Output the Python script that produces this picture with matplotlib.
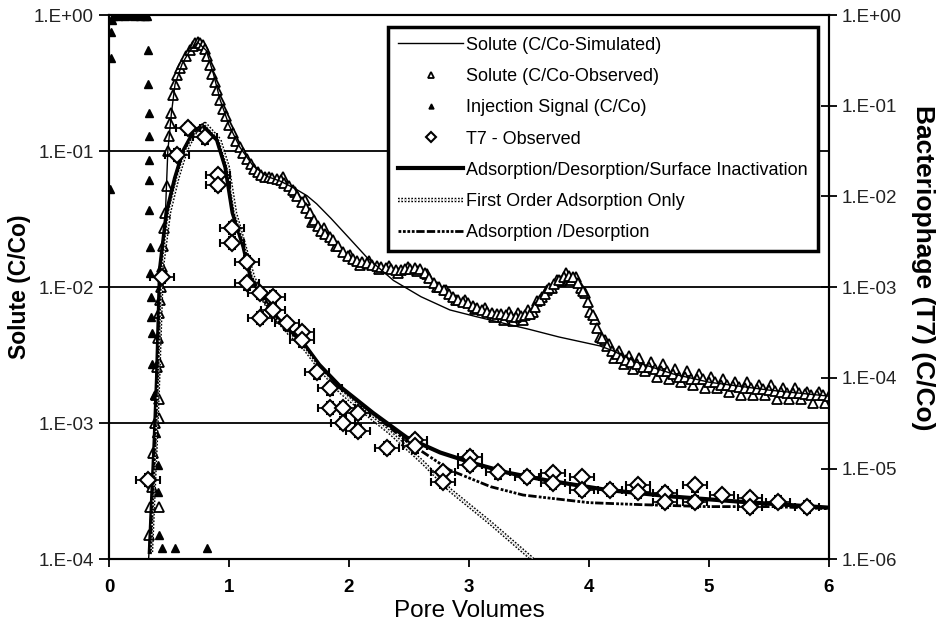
import matplotlib.pyplot as plt
import matplotlib.patheffects as pe
from matplotlib.ticker import FixedLocator, FuncFormatter, NullLocator

plt.rcParams['font.family'] = ['Liberation Sans', 'DejaVu Sans']

# Solute observed (left axis)
sol_obs_x = [0.33, 0.345, 0.36, 0.37, 0.38, 0.39, 0.40, 0.41, 0.42, 0.425, 0.43, 0.44, 0.45, 0.46, 0.47,
             0.48, 0.49, 0.50, 0.51, 0.52, 0.535, 0.55, 0.57, 0.59, 0.61, 0.64, 0.675, 0.70, 0.72, 0.74,
             0.76, 0.78, 0.80, 0.82, 0.84, 0.86, 0.88, 0.90, 0.925, 0.95, 0.975, 1.00, 1.03, 1.06, 1.09,
             1.12, 1.15, 1.18, 1.21, 1.24, 1.27, 1.30, 1.33, 1.36, 1.40, 1.43, 1.46, 1.50, 1.53, 1.57,
             1.61, 1.64, 1.675, 1.71, 1.74, 1.77, 1.80, 1.84, 1.87, 1.91, 1.95, 1.99, 2.03, 2.07, 2.11,
             2.15, 2.19, 2.23, 2.27, 2.31, 2.35, 2.39, 2.43, 2.47, 2.51, 2.55, 2.59, 2.63, 2.67, 2.71,
             2.75, 2.79, 2.83, 2.87, 2.91, 2.95, 2.99, 3.03, 3.07, 3.11, 3.15, 3.19, 3.23, 3.27, 3.31,
             3.35, 3.39, 3.43, 3.47, 3.51, 3.55, 3.59, 3.63, 3.67, 3.71, 3.75, 3.79, 3.83, 3.87, 3.91,
             3.95, 3.99, 4.03, 4.07, 4.11, 4.15, 4.19, 4.23, 4.27, 4.31, 4.35, 4.40, 4.45, 4.50, 4.55,
             4.60, 4.65, 4.70, 4.75, 4.80, 4.85, 4.90, 4.95, 5.00, 5.05, 5.10, 5.15, 5.20, 5.25, 5.30,
             5.35, 5.40, 5.45, 5.50, 5.55, 5.60, 5.65, 5.70, 5.75, 5.80, 5.85, 5.90, 5.95, 6.00,
             0.42, 0.42, 0.42, 0.415]
sol_obs_y = [1.5e-4, 2.4e-4, 3.4e-4, 6e-4, 1.0e-3, 1.6e-3, 2.6e-3, 4.2e-3, 6.5e-3, 8e-3, 1.0e-2, 1.4e-2, 2.0e-2, 2.7e-2, 3.5e-2,
             5.5e-2, 0.1, 0.13, 0.16, 0.19, 0.26, 0.31, 0.36, 0.41, 0.44, 0.50, 0.55, 0.59, 0.62, 0.63,
             0.62, 0.60, 0.56, 0.50, 0.43, 0.37, 0.32, 0.28, 0.237, 0.205, 0.18, 0.155, 0.135, 0.118, 0.107,
             0.097, 0.088, 0.080, 0.074, 0.070, 0.067, 0.065, 0.064, 0.063, 0.062, 0.061, 0.058, 0.055, 0.052, 0.047,
             0.042, 0.038, 0.035, 0.031, 0.028, 0.026, 0.0245, 0.0232, 0.0222, 0.020, 0.018, 0.0168, 0.016, 0.0155, 0.0152,
             0.0150, 0.0146, 0.0142, 0.0140, 0.0138, 0.0136, 0.0134, 0.0133, 0.0135, 0.0137, 0.0138, 0.0135, 0.0127, 0.0117, 0.0108,
             0.0100, 0.0095, 0.0089, 0.0085, 0.0081, 0.0078, 0.0076, 0.0073, 0.0070, 0.0068, 0.0066, 0.0065, 0.0064, 0.0063, 0.0062,
             0.0061, 0.0060, 0.0061, 0.0062, 0.0064, 0.0071, 0.0080, 0.0089, 0.0098, 0.0106, 0.0113, 0.0119, 0.0121, 0.0118, 0.0108,
             0.0094, 0.0078, 0.0062, 0.0050, 0.0042, 0.0037, 0.0034, 0.0032, 0.0030, 0.0029, 0.0028, 0.0027, 0.0026, 0.0026, 0.0025,
             0.0024, 0.0024, 0.0023, 0.0022, 0.0022, 0.0021, 0.0021, 0.0021, 0.0020, 0.0020, 0.0019, 0.0019, 0.00188, 0.00185, 0.00182,
             0.0018, 0.00178, 0.00178, 0.00175, 0.00172, 0.0017, 0.00168, 0.00168, 0.00166, 0.00164, 0.00162, 0.0016, 0.0016, 0.00158,
             2.8e-3, 1.5e-3, 1.1e-3, 2.4e-4]
# scatter at the edges of the observed band
sol_band_x = [1.45, 1.55, 1.63, 1.69, 1.79, 1.89, 2.01, 2.09, 2.17, 2.25, 2.33, 2.41, 2.49, 2.57, 2.65,
              2.73, 2.81, 2.89, 2.97, 3.05, 3.13, 3.21, 3.29, 3.33, 3.37, 3.41, 3.45, 3.49, 3.53, 3.57,
              3.61, 3.65, 3.69, 3.73, 3.77, 3.81, 3.85, 3.89, 3.93, 3.97, 4.01, 4.05, 4.09, 4.13, 4.17,
              4.21, 4.25, 4.29, 4.33, 4.37, 4.42, 4.47, 4.52, 4.57, 4.62, 4.67, 4.72, 4.77, 4.82, 4.87,
              4.92, 4.97, 5.02, 5.07, 5.12, 5.17, 5.22, 5.27, 5.32, 5.37, 5.42, 5.47, 5.52, 5.57, 5.62,
              5.67, 5.72, 5.77, 5.82, 5.87, 5.92, 5.97]
sol_band_y = [0.064, 0.050, 0.044, 0.030, 0.027, 0.020, 0.0172, 0.0146, 0.0156, 0.0137, 0.0143, 0.0128, 0.0141, 0.0131, 0.0125,
              0.0100, 0.0096, 0.0080, 0.0081, 0.0069, 0.0070, 0.0060, 0.0057, 0.0066, 0.0056, 0.0065, 0.0057, 0.0068, 0.0066, 0.0079,
              0.0084, 0.0096, 0.0099, 0.0112, 0.0111, 0.0128, 0.0112, 0.0118, 0.0098, 0.0090, 0.0066, 0.0058, 0.0043, 0.0041, 0.0038,
              0.0030, 0.0034, 0.0027, 0.0031, 0.0025, 0.0030, 0.0024, 0.0028, 0.0022, 0.0027, 0.0021, 0.0025, 0.0020, 0.0024, 0.0019,
              0.0023, 0.0018, 0.0022, 0.0018, 0.0021, 0.0017, 0.0020, 0.0016, 0.0020, 0.0016, 0.0019, 0.0016, 0.0019, 0.0015, 0.0018,
              0.0015, 0.0018, 0.0015, 0.0017, 0.0014, 0.0017, 0.0014]

# Solute simulated (left axis)
sol_sim_x = [0.33, 0.36, 0.38, 0.40, 0.425, 0.45, 0.47, 0.49, 0.52, 0.55, 0.61, 0.675, 0.74, 0.81, 0.87,
             0.925, 1.0, 1.09, 1.2, 1.32, 1.43, 1.55, 1.65, 1.73, 1.85, 2.0, 2.15, 2.37, 2.6, 2.84,
             3.05, 3.26, 3.5, 3.75, 4.09, 4.2, 4.4, 4.7, 5.0, 5.5, 6.0]
sol_sim_y = [1e-4, 3.4e-4, 1e-3, 2.6e-3, 8e-3, 2e-2, 3.5e-2, 0.1, 0.19, 0.31, 0.44, 0.55, 0.63, 0.55, 0.37,
             0.24, 0.155, 0.107, 0.078, 0.065, 0.060, 0.053, 0.047, 0.041, 0.032, 0.023, 0.0165, 0.0112, 0.0085, 0.0068,
             0.0061, 0.0055, 0.0049, 0.0043, 0.0037, 0.0034, 0.0028, 0.0023, 0.0020, 0.00175, 0.00158]

# Injection signal (left axis)
inj_x = [0.01, 0.015, 0.02, 0.025, 0.03, 0.045, 0.06, 0.075, 0.09, 0.105, 0.12, 0.135, 0.15, 0.165, 0.18,
         0.195, 0.21, 0.225, 0.24, 0.255, 0.27, 0.285, 0.30, 0.31, 0.32, 0.325, 0.327, 0.329, 0.331, 0.333,
         0.335, 0.337, 0.34, 0.343, 0.347, 0.352, 0.357, 0.362, 0.375, 0.395, 0.405, 0.41, 0.415, 0.44,
         0.55, 0.82]
inj_y = [0.053, 0.48, 0.75, 0.92, 0.98, 1.0, 1.0, 0.99, 1.0, 1.0, 1.0, 0.99, 1.0, 1.0, 1.0,
         1.0, 0.99, 1.0, 1.0, 0.99, 1.0, 1.0, 0.99, 1.0, 0.98, 0.55, 0.31, 0.19, 0.13, 0.086,
         0.061, 0.037, 0.0197, 0.0127, 0.0085, 0.006, 0.0046, 0.0027, 1.6e-3, 8.5e-4, 4.9e-4, 3.1e-4, 1.5e-4, 1.2e-4,
         1.2e-4, 1.2e-4]

# T7 observed (right axis)
t7_x = [0.325, 0.44, 0.57, 0.66, 0.80, 0.91, 0.91, 1.025, 1.025, 1.15, 1.15, 1.26, 1.37, 1.26, 1.37,
        1.48, 1.61, 1.61, 1.73, 1.84, 1.84, 1.95, 1.95, 2.075, 2.075, 2.32, 2.55, 2.55, 2.78, 2.78,
        3.01, 3.01, 3.24, 3.48, 3.70, 3.70, 3.94, 3.94, 4.175, 4.41, 4.41, 4.63, 4.63, 4.88, 4.88,
        5.11, 5.34, 5.34, 5.575, 5.82]
t7_y = [7.5e-6, 1.3e-3, 0.0287, 0.0567, 0.045, 0.0172, 0.0134, 0.0045, 0.0031, 0.0019, 0.0011, 8.6e-4, 7.8e-4, 4.6e-4, 5.6e-4,
        4.0e-4, 3.2e-4, 2.6e-4, 1.15e-4, 7.7e-5, 4.7e-5, 4.7e-5, 3.2e-5, 4.1e-5, 2.6e-5, 1.7e-5, 2.05e-5, 1.75e-5, 9.1e-6, 7.1e-6,
        1.34e-5, 1.1e-5, 9.1e-6, 8.1e-6, 8.9e-6, 7.0e-6, 8.0e-6, 5.8e-6, 5.8e-6, 6.5e-6, 5.5e-6, 5.4e-6, 4.3e-6, 6.5e-6, 4.3e-6,
        5.1e-6, 4.7e-6, 3.8e-6, 4.3e-6, 3.8e-6]
t7_xerr = 0.1
t7_yerr_frac = 0.15

# model curves (right axis)
adi_x = [0.34, 0.36, 0.38, 0.40, 0.425, 0.48, 0.55, 0.62, 0.70, 0.78, 0.90, 0.97, 1.03, 1.12, 1.18,
         1.3, 1.4, 1.5, 1.62, 1.75, 1.93, 2.2, 2.48, 2.76, 3.03, 3.32, 3.65, 4.15, 4.7, 5.26, 6.0]
adi_y = [1.2e-6, 5e-6, 2e-5, 1e-4, 1.6e-3, 6.6e-3, 0.016, 0.032, 0.050, 0.061, 0.042, 0.021, 6.6e-3, 2.8e-3, 1.3e-3,
         7e-4, 4.6e-4, 3.3e-4, 2.4e-4, 1.4e-4, 7.9e-5, 4.1e-5, 2.2e-5, 1.5e-5, 1.15e-5, 9.0e-6, 7.4e-6, 5.8e-6, 4.9e-6, 4.3e-6, 3.7e-6]

fo_x = [0.35, 0.37, 0.39, 0.41, 0.44, 0.50, 0.57, 0.64, 0.72, 0.80, 0.92, 0.99, 1.05, 1.13, 1.2,
        1.3, 1.4, 1.5, 1.62, 1.75, 1.93, 2.2, 2.34, 2.62, 2.84, 3.18, 3.51, 3.60]
fo_y = [1.2e-6, 5e-6, 2e-5, 1e-4, 1.6e-3, 6.6e-3, 0.016, 0.032, 0.052, 0.063, 0.042, 0.021, 6.6e-3, 2.8e-3, 1.3e-3,
        6.8e-4, 4.4e-4, 3.1e-4, 2.2e-4, 1.3e-4, 7e-5, 3.5e-5, 2.5e-5, 1.15e-5, 5.8e-6, 2.5e-6, 1.05e-6, 8e-7]

ad_x = [0.34, 0.36, 0.38, 0.40, 0.425, 0.48, 0.55, 0.62, 0.70, 0.78, 0.90, 0.97, 1.03, 1.12, 1.18,
        1.3, 1.4, 1.5, 1.62, 1.75, 1.93, 2.2, 2.48, 2.84, 3.18, 3.45, 3.68, 4.0, 4.42, 4.98, 5.53, 6.0]
ad_y = [1.2e-6, 5e-6, 2e-5, 1e-4, 1.6e-3, 6.6e-3, 0.016, 0.032, 0.050, 0.061, 0.042, 0.021, 6.6e-3, 2.8e-3, 1.3e-3,
        7e-4, 4.6e-4, 3.3e-4, 2.4e-4, 1.4e-4, 7.9e-5, 4.0e-5, 2.0e-5, 9.6e-6, 6.3e-6, 5.1e-6, 4.7e-6, 4.2e-6, 4.0e-6, 3.8e-6, 3.8e-6, 3.6e-6]

left_ticks = [1e0, 1e-1, 1e-2, 1e-3, 1e-4]
right_ticks = [1e0, 1e-1, 1e-2, 1e-3, 1e-4, 1e-5, 1e-6]
x_ticks = [0, 1, 2, 3, 4, 5, 6]


def sci_fmt(v, pos):
    s = '%.0E' % v
    mant, ex = s.split('E')
    return '%s.E%s' % (mant, ex)


fig = plt.figure(figsize=(9.48, 6.29), dpi=100)
ax = fig.add_axes([0.115, 0.111, 0.7595, 0.865])
ax2 = ax.twinx()

# gridlines at left decades
for t in left_ticks[1:-1]:
    ax.axhline(t, color='black', lw=1.3, zorder=0)

ax.set_yscale('log')
ax.set_ylim(1e-4, 1)
ax.set_xlim(0, 6)
ax2.set_yscale('log')
ax2.set_ylim(1e-6, 1)

# left axis data
l_sim, = ax.plot(sol_sim_x, sol_sim_y, color='black', lw=1.0, zorder=3,
                 label='Solute (C/Co-Simulated)')
ax.plot(sol_band_x, sol_band_y, ls='none', marker='^', ms=6.5, mfc='white', mec='black',
        mew=1.3, zorder=2)
l_obs, = ax.plot(sol_obs_x, sol_obs_y, ls='none', marker='^', ms=6.5, mfc='white', mec='black',
                 mew=1.3, zorder=2, label='Solute (C/Co-Observed)')
l_inj, = ax.plot(inj_x, inj_y, ls='none', marker='^', ms=5.5, color='black', zorder=4,
                 label='Injection Signal (C/Co)')

# right axis data
t7_yerr = [[v * t7_yerr_frac for v in t7_y], [v * t7_yerr_frac for v in t7_y]]
eb = ax2.errorbar(t7_x, t7_y, xerr=t7_xerr, yerr=t7_yerr, fmt='D', ms=8, mfc='white', mec='black',
                  mew=1.5, ecolor='black', elinewidth=1.2, capsize=3, capthick=1.2, zorder=5,
                  label='T7 - Observed')
l_adi, = ax2.plot(adi_x, adi_y, color='black', lw=3, zorder=4,
                  label='Adsorption/Desorption/Surface Inactivation')
l_fo, = ax2.plot(fo_x, fo_y, color='white', lw=1.2, ls=(0, (1, 1)), zorder=4,
                 path_effects=[pe.Stroke(linewidth=3.2, foreground='black'), pe.Normal()],
                 label='First Order Adsorption Only')
l_ad, = ax2.plot(ad_x, ad_y, color='black', lw=2, zorder=4,
                 dashes=[1, 0.6, 1, 0.6, 1, 0.6, 1, 0.6, 3, 0.8, 3, 0.8],
                 label='Adsorption /Desorption')

# axes formatting
for a in (ax, ax2):
    for s in a.spines.values():
        s.set_linewidth(1.5)
    a.yaxis.set_minor_locator(NullLocator())

ax.yaxis.set_major_locator(FixedLocator(left_ticks))
ax.yaxis.set_major_formatter(FuncFormatter(sci_fmt))
ax2.yaxis.set_major_locator(FixedLocator(right_ticks))
ax2.yaxis.set_major_formatter(FuncFormatter(sci_fmt))
ax.set_xticks(x_ticks)
ax.tick_params(axis='y', direction='out', length=7, width=1.3, labelsize=13.5, labelcolor='#222222', pad=4)
ax.tick_params(axis='x', direction='out', length=6, width=1.3, labelsize=13.5, pad=8)
for lab in ax.get_xticklabels():
    lab.set_fontweight('bold')
ax2.tick_params(axis='y', direction='inout', length=12, width=1.3, labelsize=13.5, labelcolor='#222222', pad=3)

ax.set_xlabel('Pore Volumes', fontsize=17.5, labelpad=3)
ax.set_ylabel('Solute (C/Co)', fontsize=16.5, fontweight='bold', labelpad=2)
ax2.set_ylabel('Bacteriophage (T7) (C/Co)', fontsize=19, fontweight='bold', rotation=270, labelpad=24)
ax2.yaxis.label.set_y(0.535)

handles = [l_sim, l_obs, l_inj, eb[0], l_adi, l_fo, l_ad]
labels = [h.get_label() for h in handles]
labels[3] = 'T7 - Observed'
leg = ax2.legend(handles, labels, loc='upper right', bbox_to_anchor=(0.9845, 0.9785), borderaxespad=0,
                 fontsize=13, frameon=True, fancybox=False, framealpha=1, edgecolor='black',
                 labelspacing=0.79, handlelength=3.6, handletextpad=0.17, borderpad=0.55, markerscale=0.65)
leg.get_frame().set_linewidth(2.5)
leg.set_zorder(10)

fig.savefig('out.png', dpi=100)
